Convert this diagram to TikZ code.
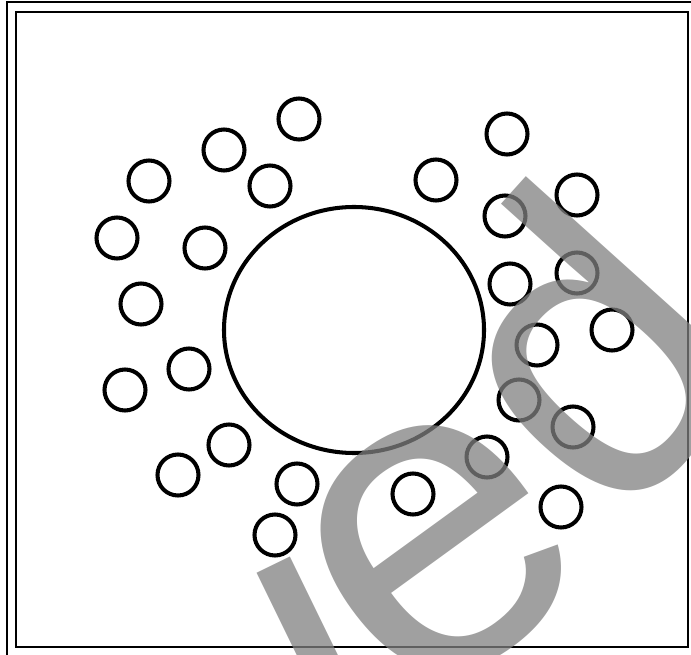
\documentclass[tikz,border=0pt]{standalone}
\usepackage{fontspec}
\newfontfamily\stampfont{Liberation Sans}
\tikzset{
  rim/.style={line width=0.45pt},
  ring/.style={line width=1.15pt},
  stamp/.style={inner sep=0pt, text=gray, text opacity=0.75,
    font=\stampfont\fontsize{120}{120}\selectfont}
}
\begin{document}
\begin{tikzpicture}[x=0.01cm, y=-0.01cm]
	\useasboundingbox (0, 0) rectangle (691, 655);
	\clip (0, 0) rectangle (691, 655);
	
	% Frame
	\draw[rim] (7, 655) -- (7, 2) -- (691, 2);
	\draw[rim] (16, 12) rectangle (688, 647);
	
	% Small circles
	\foreach \cx/\cy in {299/119, 224/150, 270/186, 149/181, 117/238, 205/248, 141/304,
		189/369, 125/390, 229/445, 178/475, 297/484, 275/535,
		507/134, 436/180, 577/195, 505/216, 510/284, 577/273, 612/330,
		537/345, 519/400, 573/427, 487/457, 413/494, 561/507}
		\draw[ring] (\cx, \cy) circle (20.5);
	
	% Big circle
	\draw[ring] (354, 330) ellipse (130 and 123);
	
	% Stamp
	\node[stamp, rotate=26] (stl) at (341, 703) {l};
	\node[stamp, rotate=36, font=\stampfont\fontsize{128}{128}\selectfont] (ste) at (439, 549) {e};
	\node[stamp, rotate=48] (std) at (582, 346) {d};
\end{tikzpicture}
\end{document}
